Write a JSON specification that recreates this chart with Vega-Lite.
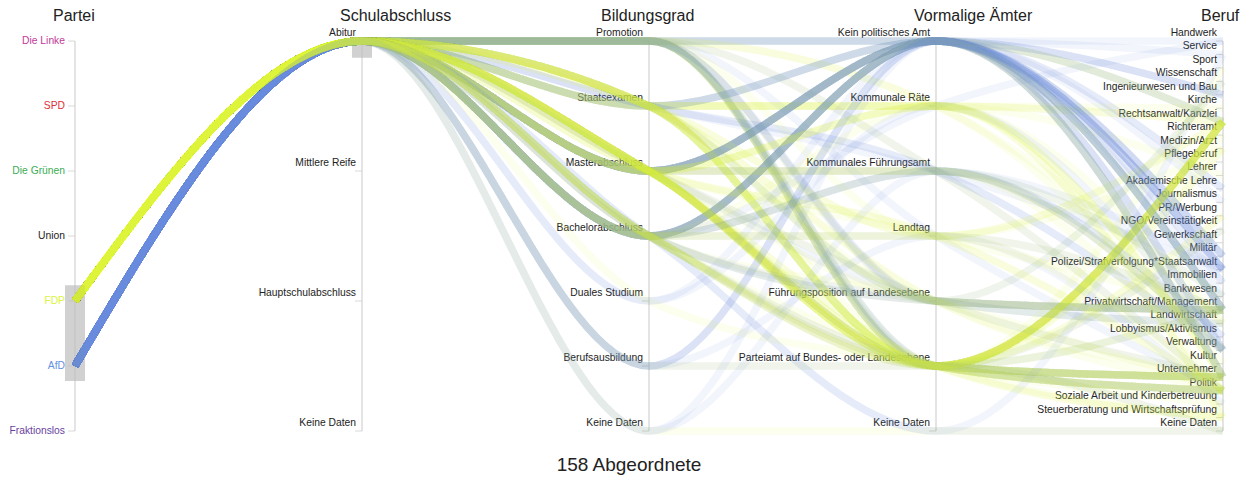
{
"$schema": "https://vega.github.io/schema/vega-lite/v6.json",
"width": 1148, "height": 390,
"autosize": {"type": "none"},
"padding": {"left": 75, "top": 41, "right": 27, "bottom": 49},
"background": "white",
"config": {"view": {"stroke": null}, "font": "Liberation Sans"},
"title": {"text": "158 Abgeordnete", "orient": "bottom", "anchor": "middle", "fontSize": 19, "fontWeight": "normal", "color": "#222222", "offset": 10, "dx": -20},
"datasets": {
"dims": [
{"i": 0, "title": "Partei"}, {"i": 1, "title": "Schulabschluss"}, {"i": 2, "title": "Bildungsgrad"}, {"i": 3, "title": "Vormalige Ämter"}, {"i": 4, "title": "Beruf"}
],
"brush": [
{"i": 0, "lo": 0.626, "hi": 0.872},
{"i": 1, "lo": 0.005, "hi": 0.043}
],
"cats": [
{"key": "Partei|Die Linke", "dim": "Partei", "cat": "Die Linke", "i": 0, "rank": 0, "n": 7},
{"key": "Partei|SPD", "dim": "Partei", "cat": "SPD", "i": 0, "rank": 1, "n": 7},
{"key": "Partei|Die Grünen", "dim": "Partei", "cat": "Die Grünen", "i": 0, "rank": 2, "n": 7},
{"key": "Partei|Union", "dim": "Partei", "cat": "Union", "i": 0, "rank": 3, "n": 7},
{"key": "Partei|FDP", "dim": "Partei", "cat": "FDP", "i": 0, "rank": 4, "n": 7},
{"key": "Partei|AfD", "dim": "Partei", "cat": "AfD", "i": 0, "rank": 5, "n": 7},
{"key": "Partei|Fraktionslos", "dim": "Partei", "cat": "Fraktionslos", "i": 0, "rank": 6, "n": 7},
{"key": "Schulabschluss|Abitur", "dim": "Schulabschluss", "cat": "Abitur", "i": 1, "rank": 0, "n": 4},
{"key": "Schulabschluss|Mittlere Reife", "dim": "Schulabschluss", "cat": "Mittlere Reife", "i": 1, "rank": 1, "n": 4},
{"key": "Schulabschluss|Hauptschulabschluss", "dim": "Schulabschluss", "cat": "Hauptschulabschluss", "i": 1, "rank": 2, "n": 4},
{"key": "Schulabschluss|Keine Daten", "dim": "Schulabschluss", "cat": "Keine Daten", "i": 1, "rank": 3, "n": 4},
{"key": "Bildungsgrad|Promotion", "dim": "Bildungsgrad", "cat": "Promotion", "i": 2, "rank": 0, "n": 7},
{"key": "Bildungsgrad|Staatsexamen", "dim": "Bildungsgrad", "cat": "Staatsexamen", "i": 2, "rank": 1, "n": 7},
{"key": "Bildungsgrad|Masterabschluss", "dim": "Bildungsgrad", "cat": "Masterabschluss", "i": 2, "rank": 2, "n": 7},
{"key": "Bildungsgrad|Bachelorabschluss", "dim": "Bildungsgrad", "cat": "Bachelorabschluss", "i": 2, "rank": 3, "n": 7},
{"key": "Bildungsgrad|Duales Studium", "dim": "Bildungsgrad", "cat": "Duales Studium", "i": 2, "rank": 4, "n": 7},
{"key": "Bildungsgrad|Berufsausbildung", "dim": "Bildungsgrad", "cat": "Berufsausbildung", "i": 2, "rank": 5, "n": 7},
{"key": "Bildungsgrad|Keine Daten", "dim": "Bildungsgrad", "cat": "Keine Daten", "i": 2, "rank": 6, "n": 7},
{"key": "Aemter|Kein politisches Amt", "dim": "Aemter", "cat": "Kein politisches Amt", "i": 3, "rank": 0, "n": 7},
{"key": "Aemter|Kommunale Räte", "dim": "Aemter", "cat": "Kommunale Räte", "i": 3, "rank": 1, "n": 7},
{"key": "Aemter|Kommunales Führungsamt", "dim": "Aemter", "cat": "Kommunales Führungsamt", "i": 3, "rank": 2, "n": 7},
{"key": "Aemter|Landtag", "dim": "Aemter", "cat": "Landtag", "i": 3, "rank": 3, "n": 7},
{"key": "Aemter|Führungsposition auf Landesebene", "dim": "Aemter", "cat": "Führungsposition auf Landesebene", "i": 3, "rank": 4, "n": 7},
{"key": "Aemter|Parteiamt auf Bundes- oder Landesebene", "dim": "Aemter", "cat": "Parteiamt auf Bundes- oder Landesebene", "i": 3, "rank": 5, "n": 7},
{"key": "Aemter|Keine Daten", "dim": "Aemter", "cat": "Keine Daten", "i": 3, "rank": 6, "n": 7},
{"key": "Beruf|Handwerk", "dim": "Beruf", "cat": "Handwerk", "i": 4, "rank": 0, "n": 30},
{"key": "Beruf|Service", "dim": "Beruf", "cat": "Service", "i": 4, "rank": 1, "n": 30},
{"key": "Beruf|Sport", "dim": "Beruf", "cat": "Sport", "i": 4, "rank": 2, "n": 30},
{"key": "Beruf|Wissenschaft", "dim": "Beruf", "cat": "Wissenschaft", "i": 4, "rank": 3, "n": 30},
{"key": "Beruf|Ingenieurwesen und Bau", "dim": "Beruf", "cat": "Ingenieurwesen und Bau", "i": 4, "rank": 4, "n": 30},
{"key": "Beruf|Kirche", "dim": "Beruf", "cat": "Kirche", "i": 4, "rank": 5, "n": 30},
{"key": "Beruf|Rechtsanwalt/Kanzlei", "dim": "Beruf", "cat": "Rechtsanwalt/Kanzlei", "i": 4, "rank": 6, "n": 30},
{"key": "Beruf|Richteramt", "dim": "Beruf", "cat": "Richteramt", "i": 4, "rank": 7, "n": 30},
{"key": "Beruf|Medizin/Arzt", "dim": "Beruf", "cat": "Medizin/Arzt", "i": 4, "rank": 8, "n": 30},
{"key": "Beruf|Pflegeberuf", "dim": "Beruf", "cat": "Pflegeberuf", "i": 4, "rank": 9, "n": 30},
{"key": "Beruf|Lehrer", "dim": "Beruf", "cat": "Lehrer", "i": 4, "rank": 10, "n": 30},
{"key": "Beruf|Akademische Lehre", "dim": "Beruf", "cat": "Akademische Lehre", "i": 4, "rank": 11, "n": 30},
{"key": "Beruf|Journalismus", "dim": "Beruf", "cat": "Journalismus", "i": 4, "rank": 12, "n": 30},
{"key": "Beruf|PR/Werbung", "dim": "Beruf", "cat": "PR/Werbung", "i": 4, "rank": 13, "n": 30},
{"key": "Beruf|NGO/Vereinstätigkeit", "dim": "Beruf", "cat": "NGO/Vereinstätigkeit", "i": 4, "rank": 14, "n": 30},
{"key": "Beruf|Gewerkschaft", "dim": "Beruf", "cat": "Gewerkschaft", "i": 4, "rank": 15, "n": 30},
{"key": "Beruf|Militär", "dim": "Beruf", "cat": "Militär", "i": 4, "rank": 16, "n": 30},
{"key": "Beruf|Polizei/Strafverfolgung*Staatsanwalt", "dim": "Beruf", "cat": "Polizei/Strafverfolgung*Staatsanwalt", "i": 4, "rank": 17, "n": 30},
{"key": "Beruf|Immobilien", "dim": "Beruf", "cat": "Immobilien", "i": 4, "rank": 18, "n": 30},
{"key": "Beruf|Bankwesen", "dim": "Beruf", "cat": "Bankwesen", "i": 4, "rank": 19, "n": 30},
{"key": "Beruf|Privatwirtschaft/Management", "dim": "Beruf", "cat": "Privatwirtschaft/Management", "i": 4, "rank": 20, "n": 30},
{"key": "Beruf|Landwirtschaft", "dim": "Beruf", "cat": "Landwirtschaft", "i": 4, "rank": 21, "n": 30},
{"key": "Beruf|Lobbyismus/Aktivismus", "dim": "Beruf", "cat": "Lobbyismus/Aktivismus", "i": 4, "rank": 22, "n": 30},
{"key": "Beruf|Verwaltung", "dim": "Beruf", "cat": "Verwaltung", "i": 4, "rank": 23, "n": 30},
{"key": "Beruf|Kultur", "dim": "Beruf", "cat": "Kultur", "i": 4, "rank": 24, "n": 30},
{"key": "Beruf|Unternehmer", "dim": "Beruf", "cat": "Unternehmer", "i": 4, "rank": 25, "n": 30},
{"key": "Beruf|Politik", "dim": "Beruf", "cat": "Politik", "i": 4, "rank": 26, "n": 30},
{"key": "Beruf|Soziale Arbeit und Kinderbetreuung", "dim": "Beruf", "cat": "Soziale Arbeit und Kinderbetreuung", "i": 4, "rank": 27, "n": 30},
{"key": "Beruf|Steuerberatung und Wirtschaftsprüfung", "dim": "Beruf", "cat": "Steuerberatung und Wirtschaftsprüfung", "i": 4, "rank": 28, "n": 30},
{"key": "Beruf|Keine Daten", "dim": "Beruf", "cat": "Keine Daten", "i": 4, "rank": 29, "n": 30}
],
"deputies": [
{"id": 1, "Partei": "FDP", "Schulabschluss": "Abitur", "Bildungsgrad": "Promotion", "Aemter": "Kein politisches Amt", "Beruf": "Privatwirtschaft/Management"},
{"id": 2, "Partei": "AfD", "Schulabschluss": "Abitur", "Bildungsgrad": "Promotion", "Aemter": "Kein politisches Amt", "Beruf": "Akademische Lehre"},
{"id": 3, "Partei": "FDP", "Schulabschluss": "Abitur", "Bildungsgrad": "Promotion", "Aemter": "Parteiamt auf Bundes- oder Landesebene", "Beruf": "Rechtsanwalt/Kanzlei"},
{"id": 4, "Partei": "AfD", "Schulabschluss": "Abitur", "Bildungsgrad": "Promotion", "Aemter": "Kein politisches Amt", "Beruf": "Akademische Lehre"},
{"id": 5, "Partei": "FDP", "Schulabschluss": "Abitur", "Bildungsgrad": "Promotion", "Aemter": "Parteiamt auf Bundes- oder Landesebene", "Beruf": "Rechtsanwalt/Kanzlei"},
{"id": 6, "Partei": "AfD", "Schulabschluss": "Abitur", "Bildungsgrad": "Promotion", "Aemter": "Kein politisches Amt", "Beruf": "Ingenieurwesen und Bau"},
{"id": 7, "Partei": "FDP", "Schulabschluss": "Abitur", "Bildungsgrad": "Promotion", "Aemter": "Parteiamt auf Bundes- oder Landesebene", "Beruf": "Medizin/Arzt"},
{"id": 8, "Partei": "AfD", "Schulabschluss": "Abitur", "Bildungsgrad": "Promotion", "Aemter": "Kein politisches Amt", "Beruf": "Privatwirtschaft/Management"},
{"id": 9, "Partei": "FDP", "Schulabschluss": "Abitur", "Bildungsgrad": "Promotion", "Aemter": "Parteiamt auf Bundes- oder Landesebene", "Beruf": "Medizin/Arzt"},
{"id": 10, "Partei": "AfD", "Schulabschluss": "Abitur", "Bildungsgrad": "Promotion", "Aemter": "Kommunales Führungsamt", "Beruf": "Politik"},
{"id": 11, "Partei": "FDP", "Schulabschluss": "Abitur", "Bildungsgrad": "Promotion", "Aemter": "Parteiamt auf Bundes- oder Landesebene", "Beruf": "Unternehmer"},
{"id": 12, "Partei": "AfD", "Schulabschluss": "Abitur", "Bildungsgrad": "Promotion", "Aemter": "Landtag", "Beruf": "Politik"},
{"id": 13, "Partei": "FDP", "Schulabschluss": "Abitur", "Bildungsgrad": "Promotion", "Aemter": "Parteiamt auf Bundes- oder Landesebene", "Beruf": "Politik"},
{"id": 14, "Partei": "AfD", "Schulabschluss": "Abitur", "Bildungsgrad": "Promotion", "Aemter": "Führungsposition auf Landesebene", "Beruf": "Privatwirtschaft/Management"},
{"id": 15, "Partei": "FDP", "Schulabschluss": "Abitur", "Bildungsgrad": "Promotion", "Aemter": "Parteiamt auf Bundes- oder Landesebene", "Beruf": "Sport"},
{"id": 16, "Partei": "AfD", "Schulabschluss": "Abitur", "Bildungsgrad": "Promotion", "Aemter": "Führungsposition auf Landesebene", "Beruf": "Privatwirtschaft/Management"},
{"id": 17, "Partei": "FDP", "Schulabschluss": "Abitur", "Bildungsgrad": "Promotion", "Aemter": "Führungsposition auf Landesebene", "Beruf": "Wissenschaft"},
{"id": 18, "Partei": "AfD", "Schulabschluss": "Abitur", "Bildungsgrad": "Promotion", "Aemter": "Führungsposition auf Landesebene", "Beruf": "Wissenschaft"},
{"id": 19, "Partei": "FDP", "Schulabschluss": "Abitur", "Bildungsgrad": "Promotion", "Aemter": "Kommunale Räte", "Beruf": "Kultur"},
{"id": 20, "Partei": "AfD", "Schulabschluss": "Abitur", "Bildungsgrad": "Promotion", "Aemter": "Parteiamt auf Bundes- oder Landesebene", "Beruf": "Rechtsanwalt/Kanzlei"},
{"id": 21, "Partei": "FDP", "Schulabschluss": "Abitur", "Bildungsgrad": "Promotion", "Aemter": "Kommunale Räte", "Beruf": "Landwirtschaft"},
{"id": 22, "Partei": "AfD", "Schulabschluss": "Abitur", "Bildungsgrad": "Promotion", "Aemter": "Parteiamt auf Bundes- oder Landesebene", "Beruf": "Politik"},
{"id": 23, "Partei": "FDP", "Schulabschluss": "Abitur", "Bildungsgrad": "Promotion", "Aemter": "Landtag", "Beruf": "Medizin/Arzt"},
{"id": 24, "Partei": "AfD", "Schulabschluss": "Abitur", "Bildungsgrad": "Promotion", "Aemter": "Parteiamt auf Bundes- oder Landesebene", "Beruf": "Politik"},
{"id": 25, "Partei": "FDP", "Schulabschluss": "Abitur", "Bildungsgrad": "Promotion", "Aemter": "Kommunales Führungsamt", "Beruf": "Politik"},
{"id": 26, "Partei": "AfD", "Schulabschluss": "Abitur", "Bildungsgrad": "Promotion", "Aemter": "Parteiamt auf Bundes- oder Landesebene", "Beruf": "Unternehmer"},
{"id": 27, "Partei": "FDP", "Schulabschluss": "Abitur", "Bildungsgrad": "Staatsexamen", "Aemter": "Kein politisches Amt", "Beruf": "Rechtsanwalt/Kanzlei"},
{"id": 28, "Partei": "AfD", "Schulabschluss": "Abitur", "Bildungsgrad": "Promotion", "Aemter": "Parteiamt auf Bundes- oder Landesebene", "Beruf": "NGO/Vereinstätigkeit"},
{"id": 29, "Partei": "FDP", "Schulabschluss": "Abitur", "Bildungsgrad": "Staatsexamen", "Aemter": "Kommunale Räte", "Beruf": "Rechtsanwalt/Kanzlei"},
{"id": 30, "Partei": "AfD", "Schulabschluss": "Abitur", "Bildungsgrad": "Staatsexamen", "Aemter": "Kein politisches Amt", "Beruf": "Rechtsanwalt/Kanzlei"},
{"id": 31, "Partei": "FDP", "Schulabschluss": "Abitur", "Bildungsgrad": "Staatsexamen", "Aemter": "Kommunale Räte", "Beruf": "Rechtsanwalt/Kanzlei"},
{"id": 32, "Partei": "AfD", "Schulabschluss": "Abitur", "Bildungsgrad": "Staatsexamen", "Aemter": "Kein politisches Amt", "Beruf": "Rechtsanwalt/Kanzlei"},
{"id": 33, "Partei": "FDP", "Schulabschluss": "Abitur", "Bildungsgrad": "Staatsexamen", "Aemter": "Kommunale Räte", "Beruf": "Kirche"},
{"id": 34, "Partei": "AfD", "Schulabschluss": "Abitur", "Bildungsgrad": "Staatsexamen", "Aemter": "Kein politisches Amt", "Beruf": "Polizei/Strafverfolgung*Staatsanwalt"},
{"id": 35, "Partei": "FDP", "Schulabschluss": "Abitur", "Bildungsgrad": "Staatsexamen", "Aemter": "Kommunale Räte", "Beruf": "Lehrer"},
{"id": 36, "Partei": "AfD", "Schulabschluss": "Abitur", "Bildungsgrad": "Staatsexamen", "Aemter": "Kein politisches Amt", "Beruf": "Verwaltung"},
{"id": 37, "Partei": "FDP", "Schulabschluss": "Abitur", "Bildungsgrad": "Staatsexamen", "Aemter": "Kommunale Räte", "Beruf": "Steuerberatung und Wirtschaftsprüfung"},
{"id": 38, "Partei": "AfD", "Schulabschluss": "Abitur", "Bildungsgrad": "Staatsexamen", "Aemter": "Kommunales Führungsamt", "Beruf": "Verwaltung"},
{"id": 39, "Partei": "FDP", "Schulabschluss": "Abitur", "Bildungsgrad": "Staatsexamen", "Aemter": "Führungsposition auf Landesebene", "Beruf": "Privatwirtschaft/Management"},
{"id": 40, "Partei": "AfD", "Schulabschluss": "Abitur", "Bildungsgrad": "Staatsexamen", "Aemter": "Kommunales Führungsamt", "Beruf": "Verwaltung"},
{"id": 41, "Partei": "FDP", "Schulabschluss": "Abitur", "Bildungsgrad": "Staatsexamen", "Aemter": "Führungsposition auf Landesebene", "Beruf": "Privatwirtschaft/Management"},
{"id": 42, "Partei": "AfD", "Schulabschluss": "Abitur", "Bildungsgrad": "Staatsexamen", "Aemter": "Kommunales Führungsamt", "Beruf": "Polizei/Strafverfolgung*Staatsanwalt"},
{"id": 43, "Partei": "FDP", "Schulabschluss": "Abitur", "Bildungsgrad": "Staatsexamen", "Aemter": "Führungsposition auf Landesebene", "Beruf": "Unternehmer"},
{"id": 44, "Partei": "AfD", "Schulabschluss": "Abitur", "Bildungsgrad": "Staatsexamen", "Aemter": "Führungsposition auf Landesebene", "Beruf": "Privatwirtschaft/Management"},
{"id": 45, "Partei": "FDP", "Schulabschluss": "Abitur", "Bildungsgrad": "Staatsexamen", "Aemter": "Führungsposition auf Landesebene", "Beruf": "Politik"},
{"id": 46, "Partei": "AfD", "Schulabschluss": "Abitur", "Bildungsgrad": "Staatsexamen", "Aemter": "Parteiamt auf Bundes- oder Landesebene", "Beruf": "Rechtsanwalt/Kanzlei"},
{"id": 47, "Partei": "FDP", "Schulabschluss": "Abitur", "Bildungsgrad": "Staatsexamen", "Aemter": "Führungsposition auf Landesebene", "Beruf": "Landwirtschaft"},
{"id": 48, "Partei": "AfD", "Schulabschluss": "Abitur", "Bildungsgrad": "Masterabschluss", "Aemter": "Kein politisches Amt", "Beruf": "Polizei/Strafverfolgung*Staatsanwalt"},
{"id": 49, "Partei": "FDP", "Schulabschluss": "Abitur", "Bildungsgrad": "Staatsexamen", "Aemter": "Parteiamt auf Bundes- oder Landesebene", "Beruf": "Rechtsanwalt/Kanzlei"},
{"id": 50, "Partei": "AfD", "Schulabschluss": "Abitur", "Bildungsgrad": "Masterabschluss", "Aemter": "Kein politisches Amt", "Beruf": "Polizei/Strafverfolgung*Staatsanwalt"},
{"id": 51, "Partei": "FDP", "Schulabschluss": "Abitur", "Bildungsgrad": "Staatsexamen", "Aemter": "Parteiamt auf Bundes- oder Landesebene", "Beruf": "Rechtsanwalt/Kanzlei"},
{"id": 52, "Partei": "AfD", "Schulabschluss": "Abitur", "Bildungsgrad": "Masterabschluss", "Aemter": "Kein politisches Amt", "Beruf": "Militär"},
{"id": 53, "Partei": "FDP", "Schulabschluss": "Abitur", "Bildungsgrad": "Staatsexamen", "Aemter": "Parteiamt auf Bundes- oder Landesebene", "Beruf": "Rechtsanwalt/Kanzlei"},
{"id": 54, "Partei": "AfD", "Schulabschluss": "Abitur", "Bildungsgrad": "Masterabschluss", "Aemter": "Kein politisches Amt", "Beruf": "Militär"},
{"id": 55, "Partei": "FDP", "Schulabschluss": "Abitur", "Bildungsgrad": "Staatsexamen", "Aemter": "Parteiamt auf Bundes- oder Landesebene", "Beruf": "Rechtsanwalt/Kanzlei"},
{"id": 56, "Partei": "AfD", "Schulabschluss": "Abitur", "Bildungsgrad": "Masterabschluss", "Aemter": "Kein politisches Amt", "Beruf": "Privatwirtschaft/Management"},
{"id": 57, "Partei": "FDP", "Schulabschluss": "Abitur", "Bildungsgrad": "Staatsexamen", "Aemter": "Parteiamt auf Bundes- oder Landesebene", "Beruf": "Rechtsanwalt/Kanzlei"},
{"id": 58, "Partei": "AfD", "Schulabschluss": "Abitur", "Bildungsgrad": "Masterabschluss", "Aemter": "Kein politisches Amt", "Beruf": "Privatwirtschaft/Management"},
{"id": 59, "Partei": "FDP", "Schulabschluss": "Abitur", "Bildungsgrad": "Staatsexamen", "Aemter": "Parteiamt auf Bundes- oder Landesebene", "Beruf": "Rechtsanwalt/Kanzlei"},
{"id": 60, "Partei": "AfD", "Schulabschluss": "Abitur", "Bildungsgrad": "Masterabschluss", "Aemter": "Kein politisches Amt", "Beruf": "Privatwirtschaft/Management"},
{"id": 61, "Partei": "FDP", "Schulabschluss": "Abitur", "Bildungsgrad": "Staatsexamen", "Aemter": "Parteiamt auf Bundes- oder Landesebene", "Beruf": "Richteramt"},
{"id": 62, "Partei": "AfD", "Schulabschluss": "Abitur", "Bildungsgrad": "Masterabschluss", "Aemter": "Kein politisches Amt", "Beruf": "Ingenieurwesen und Bau"},
{"id": 63, "Partei": "FDP", "Schulabschluss": "Abitur", "Bildungsgrad": "Staatsexamen", "Aemter": "Parteiamt auf Bundes- oder Landesebene", "Beruf": "Politik"},
{"id": 64, "Partei": "AfD", "Schulabschluss": "Abitur", "Bildungsgrad": "Masterabschluss", "Aemter": "Kein politisches Amt", "Beruf": "Ingenieurwesen und Bau"},
{"id": 65, "Partei": "FDP", "Schulabschluss": "Abitur", "Bildungsgrad": "Staatsexamen", "Aemter": "Landtag", "Beruf": "Rechtsanwalt/Kanzlei"},
{"id": 66, "Partei": "AfD", "Schulabschluss": "Abitur", "Bildungsgrad": "Masterabschluss", "Aemter": "Kein politisches Amt", "Beruf": "Unternehmer"},
{"id": 67, "Partei": "FDP", "Schulabschluss": "Abitur", "Bildungsgrad": "Staatsexamen", "Aemter": "Landtag", "Beruf": "Rechtsanwalt/Kanzlei"},
{"id": 68, "Partei": "AfD", "Schulabschluss": "Abitur", "Bildungsgrad": "Masterabschluss", "Aemter": "Kein politisches Amt", "Beruf": "Immobilien"},
{"id": 69, "Partei": "FDP", "Schulabschluss": "Abitur", "Bildungsgrad": "Masterabschluss", "Aemter": "Kein politisches Amt", "Beruf": "Unternehmer"},
{"id": 70, "Partei": "AfD", "Schulabschluss": "Abitur", "Bildungsgrad": "Masterabschluss", "Aemter": "Kein politisches Amt", "Beruf": "Journalismus"},
{"id": 71, "Partei": "FDP", "Schulabschluss": "Abitur", "Bildungsgrad": "Masterabschluss", "Aemter": "Kein politisches Amt", "Beruf": "Privatwirtschaft/Management"},
{"id": 72, "Partei": "AfD", "Schulabschluss": "Abitur", "Bildungsgrad": "Masterabschluss", "Aemter": "Kommunales Führungsamt", "Beruf": "Verwaltung"},
{"id": 73, "Partei": "FDP", "Schulabschluss": "Abitur", "Bildungsgrad": "Masterabschluss", "Aemter": "Parteiamt auf Bundes- oder Landesebene", "Beruf": "Rechtsanwalt/Kanzlei"},
{"id": 74, "Partei": "AfD", "Schulabschluss": "Abitur", "Bildungsgrad": "Masterabschluss", "Aemter": "Kommunales Führungsamt", "Beruf": "Lobbyismus/Aktivismus"},
{"id": 75, "Partei": "FDP", "Schulabschluss": "Abitur", "Bildungsgrad": "Masterabschluss", "Aemter": "Parteiamt auf Bundes- oder Landesebene", "Beruf": "Rechtsanwalt/Kanzlei"},
{"id": 76, "Partei": "AfD", "Schulabschluss": "Abitur", "Bildungsgrad": "Masterabschluss", "Aemter": "Führungsposition auf Landesebene", "Beruf": "Landwirtschaft"},
{"id": 77, "Partei": "FDP", "Schulabschluss": "Abitur", "Bildungsgrad": "Masterabschluss", "Aemter": "Parteiamt auf Bundes- oder Landesebene", "Beruf": "Rechtsanwalt/Kanzlei"},
{"id": 78, "Partei": "AfD", "Schulabschluss": "Abitur", "Bildungsgrad": "Masterabschluss", "Aemter": "Führungsposition auf Landesebene", "Beruf": "Unternehmer"},
{"id": 79, "Partei": "FDP", "Schulabschluss": "Abitur", "Bildungsgrad": "Masterabschluss", "Aemter": "Parteiamt auf Bundes- oder Landesebene", "Beruf": "Rechtsanwalt/Kanzlei"},
{"id": 80, "Partei": "AfD", "Schulabschluss": "Abitur", "Bildungsgrad": "Masterabschluss", "Aemter": "Parteiamt auf Bundes- oder Landesebene", "Beruf": "Unternehmer"},
{"id": 81, "Partei": "FDP", "Schulabschluss": "Abitur", "Bildungsgrad": "Masterabschluss", "Aemter": "Parteiamt auf Bundes- oder Landesebene", "Beruf": "Unternehmer"},
{"id": 82, "Partei": "AfD", "Schulabschluss": "Abitur", "Bildungsgrad": "Masterabschluss", "Aemter": "Parteiamt auf Bundes- oder Landesebene", "Beruf": "Unternehmer"},
{"id": 83, "Partei": "FDP", "Schulabschluss": "Abitur", "Bildungsgrad": "Masterabschluss", "Aemter": "Parteiamt auf Bundes- oder Landesebene", "Beruf": "Unternehmer"},
{"id": 84, "Partei": "AfD", "Schulabschluss": "Abitur", "Bildungsgrad": "Bachelorabschluss", "Aemter": "Kein politisches Amt", "Beruf": "Polizei/Strafverfolgung*Staatsanwalt"},
{"id": 85, "Partei": "FDP", "Schulabschluss": "Abitur", "Bildungsgrad": "Masterabschluss", "Aemter": "Parteiamt auf Bundes- oder Landesebene", "Beruf": "Unternehmer"},
{"id": 86, "Partei": "AfD", "Schulabschluss": "Abitur", "Bildungsgrad": "Bachelorabschluss", "Aemter": "Kein politisches Amt", "Beruf": "Polizei/Strafverfolgung*Staatsanwalt"},
{"id": 87, "Partei": "FDP", "Schulabschluss": "Abitur", "Bildungsgrad": "Masterabschluss", "Aemter": "Parteiamt auf Bundes- oder Landesebene", "Beruf": "Unternehmer"},
{"id": 88, "Partei": "AfD", "Schulabschluss": "Abitur", "Bildungsgrad": "Bachelorabschluss", "Aemter": "Kein politisches Amt", "Beruf": "Militär"},
{"id": 89, "Partei": "FDP", "Schulabschluss": "Abitur", "Bildungsgrad": "Masterabschluss", "Aemter": "Parteiamt auf Bundes- oder Landesebene", "Beruf": "Unternehmer"},
{"id": 90, "Partei": "AfD", "Schulabschluss": "Abitur", "Bildungsgrad": "Bachelorabschluss", "Aemter": "Kein politisches Amt", "Beruf": "Militär"},
{"id": 91, "Partei": "FDP", "Schulabschluss": "Abitur", "Bildungsgrad": "Masterabschluss", "Aemter": "Parteiamt auf Bundes- oder Landesebene", "Beruf": "Politik"},
{"id": 92, "Partei": "AfD", "Schulabschluss": "Abitur", "Bildungsgrad": "Bachelorabschluss", "Aemter": "Kein politisches Amt", "Beruf": "Privatwirtschaft/Management"},
{"id": 93, "Partei": "FDP", "Schulabschluss": "Abitur", "Bildungsgrad": "Masterabschluss", "Aemter": "Parteiamt auf Bundes- oder Landesebene", "Beruf": "Politik"},
{"id": 94, "Partei": "AfD", "Schulabschluss": "Abitur", "Bildungsgrad": "Bachelorabschluss", "Aemter": "Kein politisches Amt", "Beruf": "Privatwirtschaft/Management"},
{"id": 95, "Partei": "FDP", "Schulabschluss": "Abitur", "Bildungsgrad": "Masterabschluss", "Aemter": "Parteiamt auf Bundes- oder Landesebene", "Beruf": "Politik"},
{"id": 96, "Partei": "AfD", "Schulabschluss": "Abitur", "Bildungsgrad": "Bachelorabschluss", "Aemter": "Kein politisches Amt", "Beruf": "Unternehmer"},
{"id": 97, "Partei": "FDP", "Schulabschluss": "Abitur", "Bildungsgrad": "Masterabschluss", "Aemter": "Parteiamt auf Bundes- oder Landesebene", "Beruf": "Steuerberatung und Wirtschaftsprüfung"},
{"id": 98, "Partei": "AfD", "Schulabschluss": "Abitur", "Bildungsgrad": "Bachelorabschluss", "Aemter": "Kein politisches Amt", "Beruf": "Unternehmer"},
{"id": 99, "Partei": "FDP", "Schulabschluss": "Abitur", "Bildungsgrad": "Masterabschluss", "Aemter": "Parteiamt auf Bundes- oder Landesebene", "Beruf": "Steuerberatung und Wirtschaftsprüfung"},
{"id": 100, "Partei": "AfD", "Schulabschluss": "Abitur", "Bildungsgrad": "Bachelorabschluss", "Aemter": "Kein politisches Amt", "Beruf": "Immobilien"},
{"id": 101, "Partei": "FDP", "Schulabschluss": "Abitur", "Bildungsgrad": "Masterabschluss", "Aemter": "Parteiamt auf Bundes- oder Landesebene", "Beruf": "Privatwirtschaft/Management"},
{"id": 102, "Partei": "AfD", "Schulabschluss": "Abitur", "Bildungsgrad": "Bachelorabschluss", "Aemter": "Kein politisches Amt", "Beruf": "Bankwesen"},
{"id": 103, "Partei": "FDP", "Schulabschluss": "Abitur", "Bildungsgrad": "Masterabschluss", "Aemter": "Parteiamt auf Bundes- oder Landesebene", "Beruf": "Privatwirtschaft/Management"},
{"id": 104, "Partei": "AfD", "Schulabschluss": "Abitur", "Bildungsgrad": "Bachelorabschluss", "Aemter": "Kein politisches Amt", "Beruf": "Verwaltung"},
{"id": 105, "Partei": "FDP", "Schulabschluss": "Abitur", "Bildungsgrad": "Masterabschluss", "Aemter": "Parteiamt auf Bundes- oder Landesebene", "Beruf": "PR/Werbung"},
{"id": 106, "Partei": "AfD", "Schulabschluss": "Abitur", "Bildungsgrad": "Bachelorabschluss", "Aemter": "Kommunale Räte", "Beruf": "Handwerk"},
{"id": 107, "Partei": "FDP", "Schulabschluss": "Abitur", "Bildungsgrad": "Masterabschluss", "Aemter": "Parteiamt auf Bundes- oder Landesebene", "Beruf": "NGO/Vereinstätigkeit"},
{"id": 108, "Partei": "AfD", "Schulabschluss": "Abitur", "Bildungsgrad": "Bachelorabschluss", "Aemter": "Kommunales Führungsamt", "Beruf": "Verwaltung"},
{"id": 109, "Partei": "FDP", "Schulabschluss": "Abitur", "Bildungsgrad": "Masterabschluss", "Aemter": "Kommunales Führungsamt", "Beruf": "Verwaltung"},
{"id": 110, "Partei": "AfD", "Schulabschluss": "Abitur", "Bildungsgrad": "Bachelorabschluss", "Aemter": "Kommunales Führungsamt", "Beruf": "Lobbyismus/Aktivismus"},
{"id": 111, "Partei": "FDP", "Schulabschluss": "Abitur", "Bildungsgrad": "Masterabschluss", "Aemter": "Kommunales Führungsamt", "Beruf": "Bankwesen"},
{"id": 112, "Partei": "AfD", "Schulabschluss": "Abitur", "Bildungsgrad": "Bachelorabschluss", "Aemter": "Kommunales Führungsamt", "Beruf": "Polizei/Strafverfolgung*Staatsanwalt"},
{"id": 113, "Partei": "FDP", "Schulabschluss": "Abitur", "Bildungsgrad": "Masterabschluss", "Aemter": "Kommunales Führungsamt", "Beruf": "Politik"},
{"id": 114, "Partei": "AfD", "Schulabschluss": "Abitur", "Bildungsgrad": "Bachelorabschluss", "Aemter": "Landtag", "Beruf": "Soziale Arbeit und Kinderbetreuung"},
{"id": 115, "Partei": "FDP", "Schulabschluss": "Abitur", "Bildungsgrad": "Masterabschluss", "Aemter": "Kommunale Räte", "Beruf": "Unternehmer"},
{"id": 116, "Partei": "AfD", "Schulabschluss": "Abitur", "Bildungsgrad": "Bachelorabschluss", "Aemter": "Führungsposition auf Landesebene", "Beruf": "Privatwirtschaft/Management"},
{"id": 117, "Partei": "FDP", "Schulabschluss": "Abitur", "Bildungsgrad": "Masterabschluss", "Aemter": "Kommunale Räte", "Beruf": "Unternehmer"},
{"id": 118, "Partei": "AfD", "Schulabschluss": "Abitur", "Bildungsgrad": "Bachelorabschluss", "Aemter": "Führungsposition auf Landesebene", "Beruf": "Privatwirtschaft/Management"},
{"id": 119, "Partei": "FDP", "Schulabschluss": "Abitur", "Bildungsgrad": "Masterabschluss", "Aemter": "Kommunale Räte", "Beruf": "Steuerberatung und Wirtschaftsprüfung"},
{"id": 120, "Partei": "AfD", "Schulabschluss": "Abitur", "Bildungsgrad": "Bachelorabschluss", "Aemter": "Führungsposition auf Landesebene", "Beruf": "Landwirtschaft"},
{"id": 121, "Partei": "FDP", "Schulabschluss": "Abitur", "Bildungsgrad": "Masterabschluss", "Aemter": "Kommunale Räte", "Beruf": "Landwirtschaft"},
{"id": 122, "Partei": "AfD", "Schulabschluss": "Abitur", "Bildungsgrad": "Bachelorabschluss", "Aemter": "Parteiamt auf Bundes- oder Landesebene", "Beruf": "Politik"},
{"id": 123, "Partei": "FDP", "Schulabschluss": "Abitur", "Bildungsgrad": "Masterabschluss", "Aemter": "Landtag", "Beruf": "Politik"},
{"id": 124, "Partei": "AfD", "Schulabschluss": "Abitur", "Bildungsgrad": "Bachelorabschluss", "Aemter": "Parteiamt auf Bundes- oder Landesebene", "Beruf": "Unternehmer"},
{"id": 125, "Partei": "FDP", "Schulabschluss": "Abitur", "Bildungsgrad": "Masterabschluss", "Aemter": "Landtag", "Beruf": "Politik"},
{"id": 126, "Partei": "AfD", "Schulabschluss": "Abitur", "Bildungsgrad": "Bachelorabschluss", "Aemter": "Parteiamt auf Bundes- oder Landesebene", "Beruf": "Privatwirtschaft/Management"},
{"id": 127, "Partei": "FDP", "Schulabschluss": "Abitur", "Bildungsgrad": "Masterabschluss", "Aemter": "Landtag", "Beruf": "Privatwirtschaft/Management"},
{"id": 128, "Partei": "AfD", "Schulabschluss": "Abitur", "Bildungsgrad": "Bachelorabschluss", "Aemter": "Keine Daten", "Beruf": "Service"},
{"id": 129, "Partei": "FDP", "Schulabschluss": "Abitur", "Bildungsgrad": "Masterabschluss", "Aemter": "Führungsposition auf Landesebene", "Beruf": "Privatwirtschaft/Management"},
{"id": 130, "Partei": "AfD", "Schulabschluss": "Abitur", "Bildungsgrad": "Bachelorabschluss", "Aemter": "Keine Daten", "Beruf": "Keine Daten"},
{"id": 131, "Partei": "FDP", "Schulabschluss": "Abitur", "Bildungsgrad": "Masterabschluss", "Aemter": "Führungsposition auf Landesebene", "Beruf": "Unternehmer"},
{"id": 132, "Partei": "AfD", "Schulabschluss": "Abitur", "Bildungsgrad": "Duales Studium", "Aemter": "Kein politisches Amt", "Beruf": "Verwaltung"},
{"id": 133, "Partei": "FDP", "Schulabschluss": "Abitur", "Bildungsgrad": "Bachelorabschluss", "Aemter": "Kein politisches Amt", "Beruf": "Unternehmer"},
{"id": 134, "Partei": "AfD", "Schulabschluss": "Abitur", "Bildungsgrad": "Duales Studium", "Aemter": "Kommunale Räte", "Beruf": "Verwaltung"},
{"id": 135, "Partei": "FDP", "Schulabschluss": "Abitur", "Bildungsgrad": "Bachelorabschluss", "Aemter": "Kein politisches Amt", "Beruf": "Rechtsanwalt/Kanzlei"},
{"id": 136, "Partei": "AfD", "Schulabschluss": "Abitur", "Bildungsgrad": "Berufsausbildung", "Aemter": "Kein politisches Amt", "Beruf": "Handwerk"},
{"id": 137, "Partei": "FDP", "Schulabschluss": "Abitur", "Bildungsgrad": "Bachelorabschluss", "Aemter": "Parteiamt auf Bundes- oder Landesebene", "Beruf": "Rechtsanwalt/Kanzlei"},
{"id": 138, "Partei": "AfD", "Schulabschluss": "Abitur", "Bildungsgrad": "Berufsausbildung", "Aemter": "Kein politisches Amt", "Beruf": "Service"},
{"id": 139, "Partei": "FDP", "Schulabschluss": "Abitur", "Bildungsgrad": "Bachelorabschluss", "Aemter": "Parteiamt auf Bundes- oder Landesebene", "Beruf": "Rechtsanwalt/Kanzlei"},
{"id": 140, "Partei": "AfD", "Schulabschluss": "Abitur", "Bildungsgrad": "Berufsausbildung", "Aemter": "Kein politisches Amt", "Beruf": "Polizei/Strafverfolgung*Staatsanwalt"},
{"id": 141, "Partei": "FDP", "Schulabschluss": "Abitur", "Bildungsgrad": "Bachelorabschluss", "Aemter": "Parteiamt auf Bundes- oder Landesebene", "Beruf": "Unternehmer"},
{"id": 142, "Partei": "AfD", "Schulabschluss": "Abitur", "Bildungsgrad": "Berufsausbildung", "Aemter": "Parteiamt auf Bundes- oder Landesebene", "Beruf": "Keine Daten"},
{"id": 143, "Partei": "FDP", "Schulabschluss": "Abitur", "Bildungsgrad": "Bachelorabschluss", "Aemter": "Parteiamt auf Bundes- oder Landesebene", "Beruf": "Unternehmer"},
{"id": 144, "Partei": "AfD", "Schulabschluss": "Abitur", "Bildungsgrad": "Berufsausbildung", "Aemter": "Landtag", "Beruf": "Privatwirtschaft/Management"},
{"id": 145, "Partei": "FDP", "Schulabschluss": "Abitur", "Bildungsgrad": "Bachelorabschluss", "Aemter": "Parteiamt auf Bundes- oder Landesebene", "Beruf": "Politik"},
{"id": 146, "Partei": "AfD", "Schulabschluss": "Abitur", "Bildungsgrad": "Keine Daten", "Aemter": "Kommunales Führungsamt", "Beruf": "Bankwesen"},
{"id": 147, "Partei": "FDP", "Schulabschluss": "Abitur", "Bildungsgrad": "Bachelorabschluss", "Aemter": "Parteiamt auf Bundes- oder Landesebene", "Beruf": "Steuerberatung und Wirtschaftsprüfung"},
{"id": 148, "Partei": "AfD", "Schulabschluss": "Abitur", "Bildungsgrad": "Keine Daten", "Aemter": "Kein politisches Amt", "Beruf": "Unternehmer"},
{"id": 149, "Partei": "FDP", "Schulabschluss": "Abitur", "Bildungsgrad": "Bachelorabschluss", "Aemter": "Parteiamt auf Bundes- oder Landesebene", "Beruf": "PR/Werbung"},
{"id": 150, "Partei": "FDP", "Schulabschluss": "Abitur", "Bildungsgrad": "Bachelorabschluss", "Aemter": "Führungsposition auf Landesebene", "Beruf": "Privatwirtschaft/Management"},
{"id": 151, "Partei": "FDP", "Schulabschluss": "Abitur", "Bildungsgrad": "Bachelorabschluss", "Aemter": "Führungsposition auf Landesebene", "Beruf": "Politik"},
{"id": 152, "Partei": "FDP", "Schulabschluss": "Abitur", "Bildungsgrad": "Bachelorabschluss", "Aemter": "Kommunales Führungsamt", "Beruf": "Verwaltung"},
{"id": 153, "Partei": "FDP", "Schulabschluss": "Abitur", "Bildungsgrad": "Bachelorabschluss", "Aemter": "Landtag", "Beruf": "Politik"},
{"id": 154, "Partei": "FDP", "Schulabschluss": "Abitur", "Bildungsgrad": "Bachelorabschluss", "Aemter": "Landtag", "Beruf": "Privatwirtschaft/Management"},
{"id": 155, "Partei": "FDP", "Schulabschluss": "Abitur", "Bildungsgrad": "Bachelorabschluss", "Aemter": "Kommunale Räte", "Beruf": "Unternehmer"},
{"id": 156, "Partei": "FDP", "Schulabschluss": "Abitur", "Bildungsgrad": "Duales Studium", "Aemter": "Parteiamt auf Bundes- oder Landesebene", "Beruf": "Soziale Arbeit und Kinderbetreuung"},
{"id": 157, "Partei": "FDP", "Schulabschluss": "Abitur", "Bildungsgrad": "Berufsausbildung", "Aemter": "Parteiamt auf Bundes- oder Landesebene", "Beruf": "Keine Daten"},
{"id": 158, "Partei": "FDP", "Schulabschluss": "Abitur", "Bildungsgrad": "Keine Daten", "Aemter": "Keine Daten", "Beruf": "Keine Daten"}
]
},
"encoding": {
"x": {"field": "i", "type": "quantitative", "scale": {"domain": [0, 4], "nice": false, "zero": false}, "axis": null}
},
"layer": [
{
"data": {"name": "dims"},
"mark": {"type": "rule", "color": "#c9c9c9", "strokeWidth": 1},
"encoding": {
"y": {"datum": 0, "type": "quantitative", "scale": {"domain": [0, 1], "reverse": true, "nice": false, "zero": false}, "axis": null},
"y2": {"datum": 1}
}
},
{
"data": {"name": "cats"},
"transform": [{"calculate": "datum.rank / (datum.n - 1)", "as": "pos"}],
"mark": {"type": "tick", "orient": "horizontal", "size": 7, "thickness": 1, "color": "#c9c9c9", "xOffset": -3.5},
"encoding": {
"y": {"field": "pos", "type": "quantitative", "scale": {"domain": [0, 1], "reverse": true, "nice": false, "zero": false}, "axis": null}
}
},
{
"data": {"name": "cats"},
"transform": [{"filter": "datum.dim != 'Partei'"}, {"calculate": "datum.rank / (datum.n - 1)", "as": "pos"}],
"mark": {"type": "text", "align": "right", "baseline": "bottom", "dx": -6, "dy": -3, "fontSize": 10.3, "color": "#222222"},
"encoding": {
"y": {"field": "pos", "type": "quantitative", "scale": {"domain": [0, 1], "reverse": true, "nice": false, "zero": false}, "axis": null},
"text": {"field": "cat"}
}
},
{
"data": {"name": "cats"},
"transform": [{"filter": "datum.dim == 'Partei'"}, {"calculate": "datum.rank / (datum.n - 1)", "as": "pos"}],
"mark": {"type": "text", "align": "right", "baseline": "middle", "dx": -10, "fontSize": 10.3},
"encoding": {
"y": {"field": "pos", "type": "quantitative", "scale": {"domain": [0, 1], "reverse": true, "nice": false, "zero": false}, "axis": null},
"text": {"field": "cat"},
"color": {"field": "cat", "type": "nominal", "scale": {"domain": ["Die Linke", "SPD", "Die Grünen", "Union", "FDP", "AfD", "Fraktionslos"], "range": ["#c2399a", "#e0303a", "#3aad55", "#222222", "#dbf43e", "#6590e2", "#6a3f9e"]}, "legend": null}
}
},
{
"data": {"name": "brush"},
"mark": {"type": "rect", "color": "#bdbdbd", "opacity": 0.7, "xOffset": -10, "x2Offset": 10},
"encoding": {
"x2": {"field": "i"},
"y": {"field": "lo", "type": "quantitative", "scale": {"domain": [0, 1], "reverse": true, "nice": false, "zero": false}, "axis": null},
"y2": {"field": "hi"}
}
},
{
"data": {"name": "deputies"},
"transform": [
{"fold": ["Partei", "Schulabschluss", "Bildungsgrad", "Aemter", "Beruf"], "as": ["dim", "cat"]},
{"calculate": "datum.dim + '|' + datum.cat", "as": "key"},
{"lookup": "key", "from": {"data": {"name": "cats"}, "key": "key", "fields": ["i", "rank", "n"]}},
{"calculate": "datum.rank / (datum.n - 1)", "as": "pos"}
],
"mark": {"type": "line", "interpolate": "monotone", "strokeWidth": 7.5, "opacity": 0.085, "strokeCap": "butt"},
"encoding": {
"y": {"field": "pos", "type": "quantitative", "scale": {"domain": [0, 1], "reverse": true, "nice": false, "zero": false}, "axis": null},
"detail": {"field": "id", "type": "nominal"},
"order": {"field": "i", "type": "quantitative"},
"color": {"field": "Partei", "type": "nominal", "scale": {"domain": ["Die Linke", "SPD", "Die Grünen", "Union", "FDP", "AfD", "Fraktionslos"], "range": ["#c2399a", "#e0303a", "#3aad55", "#222222", "#dbf43e", "#6590e2", "#6a3f9e"]}, "legend": null}
}
},
{
"data": {"name": "dims"},
"transform": [{"filter": "datum.i != 2"}],
"mark": {"type": "text", "align": "left", "baseline": "alphabetic", "dx": -22, "dy": -20, "fontSize": 16, "color": "#222222"},
"encoding": {
"y": {"datum": 0, "type": "quantitative", "scale": {"domain": [0, 1], "reverse": true, "nice": false, "zero": false}, "axis": null},
"text": {"field": "title"}
}
},
{
"data": {"name": "dims"},
"transform": [{"filter": "datum.i == 2"}],
"mark": {"type": "text", "align": "left", "baseline": "alphabetic", "dx": -48, "dy": -20, "fontSize": 16, "color": "#222222"},
"encoding": {
"y": {"datum": 0, "type": "quantitative", "scale": {"domain": [0, 1], "reverse": true, "nice": false, "zero": false}, "axis": null},
"text": {"field": "title"}
}
}
]
}
